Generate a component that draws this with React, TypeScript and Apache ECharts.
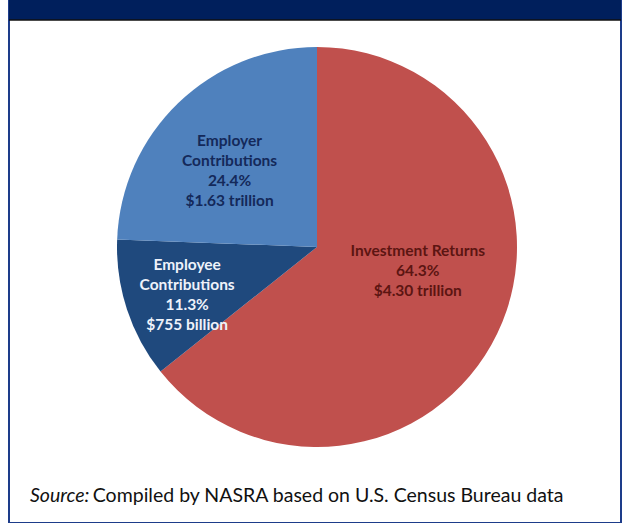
import React, { useEffect, useRef } from "react";
import * as echarts from "echarts";

const categories = ["Investment Returns", "Employee Contributions", "Employer Contributions"];
const labelLines = [["Investment Returns"], ["Employee", "Contributions"], ["Employer", "Contributions"]];
const percents = [64.3, 11.3, 24.4];
const amounts = ["$4.30 trillion", "$755 billion", "$1.63 trillion"];
const colors = ["#C0504D", "#1F497D", "#4F81BD"];
const labelColors = ["#5c1512", "#eef2fa", "#14295a"];
const sourceNote = "Compiled by NASRA based on U.S. Census Bureau data";

const labelShift = [
  { dx: 8, dy: -22 },
  { dx: -32, dy: 15 },
  { dx: -16, dy: -3 },
];

export default function App() {
  const ref = useRef<HTMLDivElement>(null);
  useEffect(() => {
    if (!ref.current) return;
    const chart = echarts.init(ref.current, null, { renderer: "svg" });
    chart.setOption({
      animation: false,
      backgroundColor: "#ffffff",
      graphic: [
        { type: "rect", shape: { x: 9, y: 0, width: 612, height: 523 }, style: { fill: "none", stroke: "#1d3c8a", lineWidth: 2 }, z: 10 },
        { type: "rect", shape: { x: 9, y: 0, width: 612, height: 20 }, style: { fill: "#001f5c" }, z: 11 },
        { type: "line", shape: { x1: 9, y1: 20, x2: 621, y2: 20 }, style: { stroke: "#111111", lineWidth: 1.5 }, z: 12 },
        {
          type: "text",
          left: 30,
          top: 484,
          style: {
            text: "{i|Source:} {n|" + sourceNote + "}",
            rich: {
              i: { fontFamily: "Lato", fontStyle: "italic", fontSize: 19.5, fill: "#111111" },
              n: { fontFamily: "Lato", fontSize: 19.5, fill: "#111111" },
            },
          },
          z: 12,
        },
      ],
      series: [
        {
          type: "pie",
          center: [317, 247],
          radius: [0, 200],
          startAngle: 90,
          clockwise: true,
          silent: true,
          itemStyle: { borderWidth: 0 },
          label: {
            show: true,
            position: "inside",
            fontFamily: "Lato",
            fontWeight: "bold",
            fontSize: 15.5,
            lineHeight: 20,
            align: "center",
            formatter: (p: any) =>
              [...labelLines[p.dataIndex], percents[p.dataIndex].toFixed(1) + "%", amounts[p.dataIndex]].join("\n"),
          },
          labelLayout: (p: any) => labelShift[p.dataIndex],
          data: categories.map((c, i) => ({
            name: c,
            value: percents[i],
            itemStyle: { color: colors[i] },
            label: { color: labelColors[i] },
          })),
        },
      ],
    });
    return () => chart.dispose();
  }, []);
  return <div ref={ref} style={{ position: "absolute", left: 0, top: 0, width: 626, height: 523 }} />;
}
